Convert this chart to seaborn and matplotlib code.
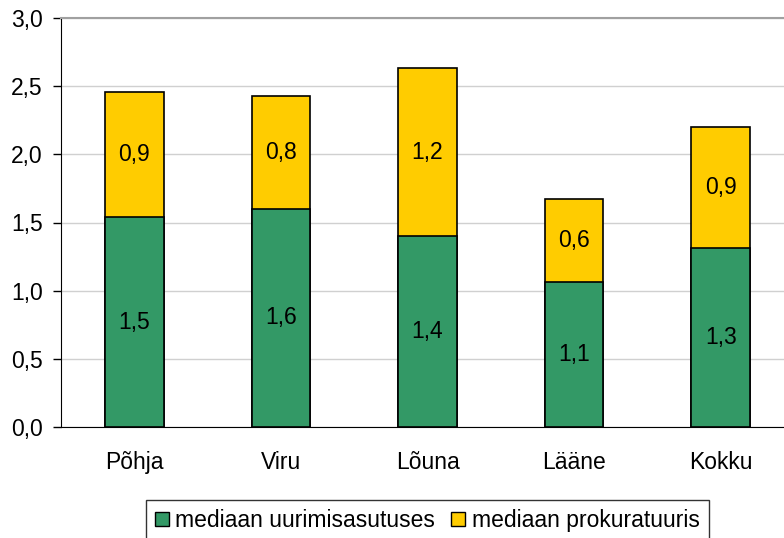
import matplotlib
matplotlib.use("Agg")
import matplotlib.pyplot as plt
import pandas as pd
import seaborn as sns
from matplotlib.patches import Patch

regions = ["Põhja", "Viru", "Lõuna", "Lääne", "Kokku"]
uurimisasutus = [1.54, 1.60, 1.40, 1.06, 1.31]
prokuratuur = [0.92, 0.83, 1.23, 0.61, 0.89]
series_names = ["mediaan uurimisasutuses", "mediaan prokuratuuris"]

GREEN = "#339966"
YELLOW = "#FFCC00"
FS = 16.5

df = pd.DataFrame({"region": regions, "green": uurimisasutus, "yellow": prokuratuur})
df["total"] = df["green"] + df["yellow"]

sns.set_style("white")
plt.rcParams["font.family"] = ["Liberation Sans", "DejaVu Sans"]
plt.rcParams["text.color"] = "black"
plt.rcParams["xtick.color"] = "black"
plt.rcParams["ytick.color"] = "black"

fig = plt.figure(figsize=(7.84, 5.38), dpi=100)
ax = fig.add_axes([61 / 784, 1 - 427 / 538, 733 / 784, 409 / 538])

# kogusumma (kollane) all, roheline peal
sns.barplot(data=df, x="region", y="total", color=YELLOW, width=0.4,
            edgecolor="black", linewidth=1.2, saturation=1, ax=ax, zorder=3)
sns.barplot(data=df, x="region", y="green", color=GREEN, width=0.4,
            edgecolor="black", linewidth=1.2, saturation=1, ax=ax, zorder=3)

yellow_bars = ax.containers[0]
green_bars = ax.containers[1]


def fmt(v):
    return f"{v:.1f}".replace(".", ",")


for bar, g, y in zip(yellow_bars, uurimisasutus, prokuratuur):
    ax.text(bar.get_x() + bar.get_width() / 2, g + y / 2, fmt(y),
            ha="center", va="center", fontsize=FS, zorder=4)
for bar, g in zip(green_bars, uurimisasutus):
    ax.text(bar.get_x() + bar.get_width() / 2, g / 2, fmt(g),
            ha="center", va="center", fontsize=FS, zorder=4)

ax.set_ylim(0, 3.0)
ax.set_xlim(-0.5, 4.5)
yt = [0, 0.5, 1.0, 1.5, 2.0, 2.5, 3.0]
ax.set_yticks(yt)
ax.set_yticklabels([fmt(v) for v in yt], fontsize=FS)
ax.set_xticks(range(len(regions)))
ax.set_xticklabels(regions, fontsize=FS)
ax.set_xticks([i + 0.5 for i in range(-1, len(regions))], minor=True)
ax.tick_params(axis="x", which="major", length=0, pad=17)
ax.tick_params(axis="x", which="minor", length=6, width=1, direction="out")
ax.tick_params(axis="y", length=6, width=1, direction="out", pad=7, left=True)
ax.set_xlabel("")
ax.set_ylabel("")

ax.grid(axis="y", color="#d0d0d0", linewidth=1, zorder=0)
ax.set_axisbelow(True)
ax.spines["right"].set_visible(False)
ax.spines["top"].set_color("#a0a0a0")
ax.spines["top"].set_linewidth(1.5)
ax.spines["left"].set_color("black")
ax.spines["bottom"].set_color("black")

handles = [Patch(facecolor=GREEN, edgecolor="black"),
           Patch(facecolor=YELLOW, edgecolor="black")]
leg = fig.legend(handles, series_names, loc="upper center",
                 bbox_to_anchor=(0.545, 1 - 500 / 538), ncol=2, fontsize=FS,
                 frameon=True, fancybox=False, edgecolor="black",
                 handlelength=0.6, handleheight=0.6, handletextpad=0.3,
                 columnspacing=0.7, borderpad=0.4, borderaxespad=0)
leg.get_frame().set_linewidth(1)

fig.savefig("out.png", dpi=100)
